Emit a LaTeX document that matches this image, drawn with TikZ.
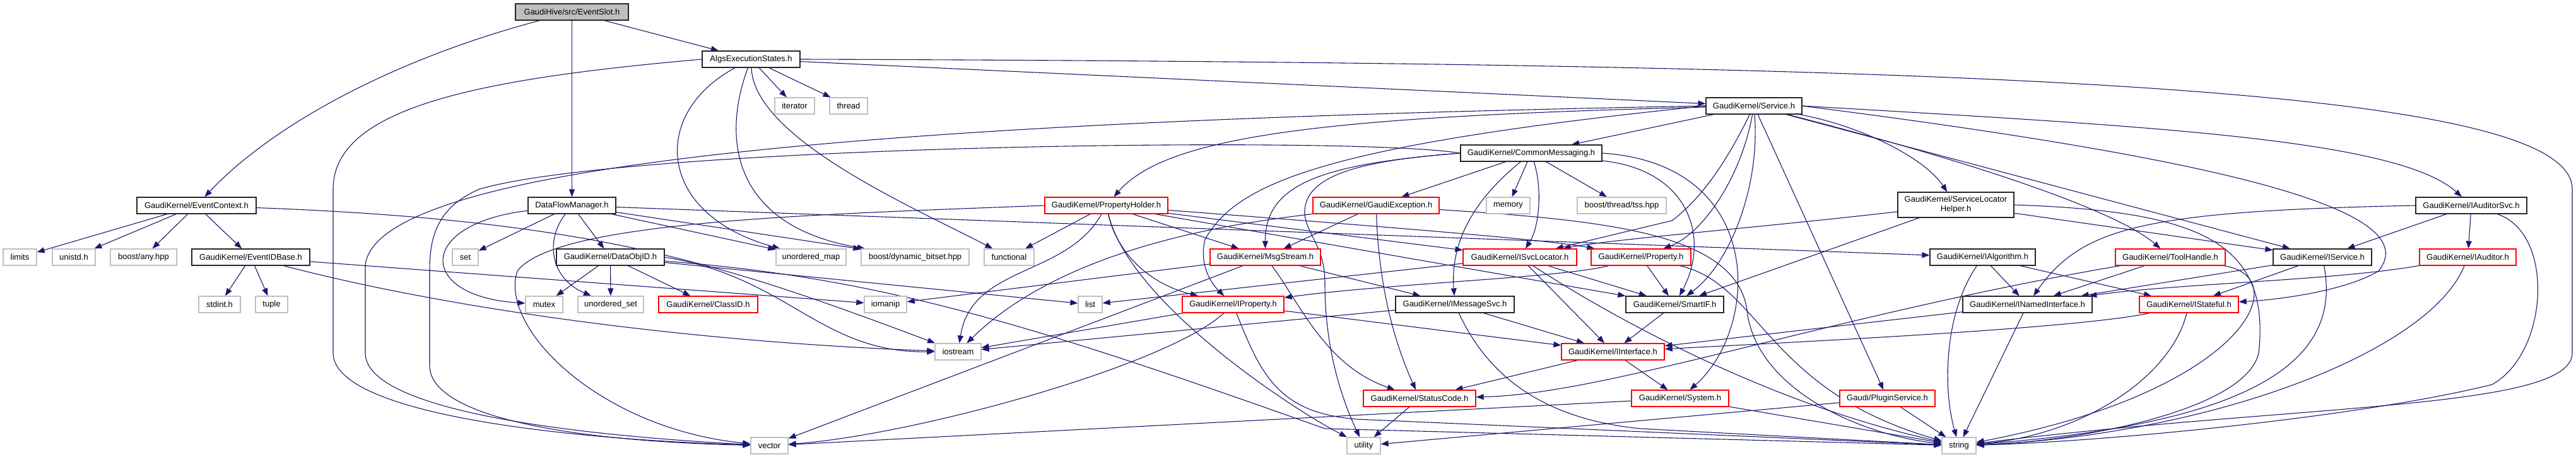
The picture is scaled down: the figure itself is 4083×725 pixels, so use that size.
\documentclass[tikz,border=0pt]{standalone}
\usepackage{fontspec}
\setmainfont{Liberation Sans}
\usetikzlibrary{arrows.meta,backgrounds}
\definecolor{edgeblue}{HTML}{191970}
\definecolor{greyseventyfive}{HTML}{BFBFBF}
\definecolor{redborder}{HTML}{FF0000}
\tikzset{
  nbox/.style={draw, rectangle, fill=white, minimum height=26pt, inner sep=0pt, line width=1.3pt, text=black, font=\fontsize{13}{15}\selectfont},
  sysbox/.style={nbox, draw=greyseventyfive},
  docbox/.style={nbox, draw=black!85},
  trbox/.style={nbox, draw=redborder},
  rootbox/.style={nbox, draw=black!85, fill=greyseventyfive},
  conn/.style={draw=edgeblue, line width=1.1pt, -{Triangle[length=12pt,width=9pt]}},
}
\begin{document}
\begin{tikzpicture}[x=1pt,y=-1pt]
\useasboundingbox (0,0) rectangle (4083,725);
% ---------------- nodes ----------------
\node[rootbox, minimum width=179pt] (slot) at (906.5,19) {GaudiHive/src/EventSlot.h};
\node[docbox, minimum width=155pt] (algs) at (1190.5,94) {AlgsExecutionStates.h};
\node[sysbox, minimum width=63pt] (iterator) at (1259.5,168) {iterator};
\node[sysbox, minimum width=60pt] (thread) at (1345,168) {thread};
\node[docbox, minimum width=139pt] (dfm) at (906.5,326) {DataFlowManager.h};
\node[docbox, minimum width=189pt] (ectx) at (311.5,326) {GaudiKernel/EventContext.h};
\node[sysbox, minimum width=53pt] (limits) at (31.5,408) {limits};
\node[sysbox, minimum width=68pt] (unistd) at (117,408) {unistd.h};
\node[sysbox, minimum width=105pt] (anyhpp) at (227.5,408) {boost/any.hpp};
\node[docbox, minimum width=187pt] (eidb) at (397.5,408) {GaudiKernel/EventIDBase.h};
\node[sysbox, minimum width=66pt] (stdint) at (348,483) {stdint.h};
\node[sysbox, minimum width=51pt] (tuple) at (430.5,483) {tuple};
\node[sysbox, minimum width=41pt] (set) at (737.5,408) {set};
\node[docbox, minimum width=171pt] (dataobjid) at (967.5,408) {GaudiKernel/DataObjID.h};
\node[sysbox, minimum width=111pt] (umap) at (1285.5,408) {unordered\_map};
\node[sysbox, minimum width=171pt] (dynbit) at (1450.5,408) {boost/dynamic\_bitset.hpp};
\node[sysbox, minimum width=79pt] (functional) at (1599.5,408) {functional};
\node[sysbox, minimum width=59pt] (mutex) at (862.5,483) {mutex};
\node[sysbox, minimum width=104pt] (uset) at (968,483) {unordered\_set};
\node[trbox, minimum width=157pt] (classid) at (1122.5,483) {GaudiKernel/ClassID.h};
\node[sysbox, minimum width=67pt] (iomanip) at (1403.5,483) {iomanip};
\node[sysbox, minimum width=38pt] (list) at (1728,483) {list};
\node[trbox, minimum width=161pt] (iprop) at (1954.5,483) {GaudiKernel/IProperty.h};
\node[sysbox, minimum width=73pt] (iostream) at (1518.5,558) {iostream};
\node[trbox, minimum width=175pt] (msgstream) at (2005.5,408) {GaudiKernel/MsgStream.h};
\node[trbox, minimum width=195pt] (propholder) at (1753.5,326) {GaudiKernel/PropertyHolder.h};
\node[docbox, minimum width=152pt] (service) at (2780,168) {GaudiKernel/Service.h};
\node[docbox, minimum width=224pt] (commsg) at (2427,243) {GaudiKernel/CommonMessaging.h};
\node[trbox, minimum width=200pt] (gexc) at (2181,326) {GaudiKernel/GaudiException.h};
\node[sysbox, minimum width=69pt] (memory) at (2390.5,326) {memory};
\node[sysbox, minimum width=141pt] (tss) at (2570.5,326) {boost/thread/tss.hpp};
\node[trbox, minimum width=180pt] (isvcloc) at (2409,408) {GaudiKernel/ISvcLocator.h};
\node[trbox, minimum width=158pt] (property) at (2601,408) {GaudiKernel/Property.h};
\node[docbox, minimum width=188pt] (imsgsvc) at (2306,483) {GaudiKernel/IMessageSvc.h};
\node[docbox, minimum width=155pt] (smartif) at (2654.5,483) {GaudiKernel/SmartIF.h};
\node[trbox, minimum width=163pt] (iinterface) at (2556.5,558) {GaudiKernel/IInterface.h};
\node[trbox, minimum width=178pt] (statuscode) at (2250,632) {GaudiKernel/StatusCode.h};
\node[trbox, minimum width=154pt] (system) at (2663,632) {GaudiKernel/System.h};
\node[sysbox, minimum width=53pt] (utility) at (2161.5,707) {utility};
\node[sysbox, minimum width=59pt] (vector) at (1219.5,707) {vector};
\node[docbox, minimum width=184pt, minimum height=40pt, align=center] (slh) at (3100,325) {GaudiKernel/ServiceLocator\\Helper.h};
\node[docbox, minimum width=167pt] (ialg) at (3142.5,408) {GaudiKernel/IAlgorithm.h};
\node[docbox, minimum width=205pt] (inamed) at (3213.5,483) {GaudiKernel/INamedInterface.h};
\node[trbox, minimum width=151pt] (plugin) at (2991.5,632) {Gaudi/PluginService.h};
\node[sysbox, minimum width=54pt] (string) at (3105,707) {string};
\node[trbox, minimum width=174pt] (toolhandle) at (3440,408) {GaudiKernel/ToolHandle.h};
\node[trbox, minimum width=157pt] (istateful) at (3469.5,483) {GaudiKernel/IStateful.h};
\node[docbox, minimum width=156pt] (iservice) at (3681,408) {GaudiKernel/IService.h};
\node[trbox, minimum width=153pt] (iauditor) at (3911.5,408) {GaudiKernel/IAuditor.h};
\node[docbox, minimum width=176pt] (iauditorsvc) at (3917,326) {GaudiKernel/IAuditorSvc.h};
% ---------------- edges ----------------
\begin{scope}[on background layer]
% EventSlot
\draw[conn] (slot) .. controls (620,95) and (430,200) .. (ectx);
\draw[conn] (slot) -- (dfm);
\draw[conn] (slot) -- (algs);
% AlgsExecutionStates
\draw[conn] (algs) -- (iterator);
\draw[conn] (algs) -- (thread);
\draw[conn] (algs) -- (service);
\draw[conn] (algs.east) .. controls (3200,100) and (4077,140) .. (4077,300) -- (4077,560) .. controls (4077,650) and (3650,640) .. (string);
\draw[conn] (algs.west) .. controls (760,125) and (528,170) .. (528,300) -- (528,560) .. controls (528,650) and (850,695) .. (vector);
\draw[conn] (algs) .. controls (1030,180) and (1040,340) .. (umap);
\draw[conn] (algs) .. controls (1140,230) and (1170,360) .. (dynbit);
\draw[conn] (algs) .. controls (1195,220) and (1450,330) .. (functional);
% EventContext
\draw[conn] (ectx) -- (limits);
\draw[conn] (ectx) -- (unistd);
\draw[conn] (ectx) -- (anyhpp);
\draw[conn] (ectx) -- (eidb);
\draw[conn] (ectx) .. controls (950,350) and (1150,420) .. (iostream);
% EventIDBase
\draw[conn] (eidb) -- (stdint);
\draw[conn] (eidb) -- (tuple);
\draw[conn] (eidb) -- (iomanip);
\draw[conn] (eidb) .. controls (750,500) and (1150,545) .. (iostream);
% DataFlowManager
\draw[conn] (dfm) .. controls (660,355) and (660,470) .. (mutex);
\draw[conn] (dfm) -- (set);
\draw[conn] (dfm) .. controls (865,380) and (870,440) .. (uset);
\draw[conn] (dfm) -- (dataobjid);
\draw[conn] (dfm) -- (umap);
\draw[conn] (dfm) -- (dynbit);
\draw[conn] (dfm) -- (ialg);
% DataObjID
\draw[conn] (dataobjid) -- (mutex);
\draw[conn] (dataobjid) -- (uset);
\draw[conn] (dataobjid) -- (classid);
\draw[conn] (dataobjid) -- (list);
\draw[conn] (dataobjid.east) .. controls (1250,440) and (1300,560) .. (iostream.west);
\draw[conn] (dataobjid) .. controls (1400,440) and (1650,520) .. (2100,680) -- (string);
% PropertyHolder
\draw[conn] (propholder.west) .. controls (1300,340) and (880,350) .. (820,430) .. controls (790,520) and (950,680) .. (vector);
\draw[conn] (propholder) -- (functional);
\draw[conn] (propholder) .. controls (1690,440) and (1540,420) .. (iostream);
\draw[conn] (propholder) .. controls (1770,400) and (1820,450) .. (iprop);
\draw[conn] (propholder) .. controls (1790,480) and (2050,650) .. (utility);
\draw[conn] (propholder) -- (msgstream);
\draw[conn] (propholder) -- (isvcloc);
\draw[conn] (propholder) .. controls (2200,360) and (2450,380) .. (property);
\draw[conn] (propholder) -- (smartif);
% MsgStream
\draw[conn] (msgstream) -- (iomanip);
\draw[conn] (msgstream) -- (vector);
\draw[conn] (msgstream) -- (imsgsvc);
\draw[conn] (msgstream) .. controls (2060,480) and (2100,580) .. (statuscode);
% GaudiException
\draw[conn] (gexc) -- (msgstream);
\draw[conn] (gexc) .. controls (2000,350) and (1700,380) .. (iostream);
\draw[conn] (gexc) .. controls (2185,430) and (2200,520) .. (statuscode);
\draw[conn] (gexc) .. controls (2550,350) and (2760,370) .. (2770,500) .. controls (2790,620) and (2950,690) .. (string);
% CommonMessaging
\draw[conn] (commsg) -- (gexc);
\draw[conn] (commsg) -- (memory);
\draw[conn] (commsg) -- (tss);
\draw[conn] (commsg) .. controls (2320,330) and (2300,400) .. (imsgsvc);
\draw[conn] (commsg) .. controls (2445,300) and (2440,360) .. (isvcloc);
\draw[conn] (commsg) .. controls (2680,270) and (2710,380) .. (smartif);
\draw[conn] (commsg.west) .. controls (2100,260) and (2005,290) .. (msgstream);
\draw[conn] (commsg.west) .. controls (2150,255) and (2065,280) .. (2068,340) .. controls (2072,375) and (2100,390) .. (2100,450) .. controls (2100,560) and (2130,640) .. (utility);
\draw[conn] (commsg.east) .. controls (2800,260) and (2790,520) .. (system);
\draw[conn] (commsg.west) .. controls (2150,215) and (1000,230) .. (760,300) .. controls (690,330) and (681,380) .. (681,430) -- (681,580) .. controls (681,660) and (900,700) .. (vector);
% ISvcLocator
\draw[conn] (isvcloc) -- (iinterface);
\draw[conn] (isvcloc) -- (smartif);
\draw[conn] (isvcloc) .. controls (2550,500) and (2800,640) .. (string);
\draw[conn] (isvcloc) -- (list);
% Property
\draw[conn] (property) -- (smartif);
\draw[conn] (property) .. controls (2480,440) and (2200,450) .. (iprop);
\draw[conn] (property) .. controls (2790,450) and (2800,620) .. (string);
% IMessageSvc
\draw[conn] (imsgsvc) -- (iinterface);
\draw[conn] (imsgsvc) -- (iostream);
\draw[conn] (imsgsvc) .. controls (2360,600) and (2450,665) .. (2600,680) -- (string);
% SmartIF, IInterface, StatusCode, System, PluginService
\draw[conn] (smartif) -- (iinterface);
\draw[conn] (iinterface) -- (statuscode);
\draw[conn] (iinterface) -- (system);
\draw[conn] (statuscode) -- (utility);
\draw[conn] (system) -- (vector);
\draw[conn] (system) -- (string);
\draw[conn] (plugin) -- (string);
\draw[conn] (plugin) -- (utility);
% IProperty
\draw[conn] (iprop) -- (iostream);
\draw[conn] (iprop) .. controls (1850,580) and (1450,690) .. (vector);
\draw[conn] (iprop) .. controls (2000,600) and (2030,655) .. (2150,665) -- (string);
\draw[conn] (iprop) -- (iinterface);
% IAlgorithm, INamedInterface
\draw[conn] (ialg) -- (inamed);
\draw[conn] (ialg) .. controls (3080,500) and (3080,620) .. (string);
\draw[conn] (ialg) -- (istateful);
\draw[conn] (inamed) -- (iinterface);
\draw[conn] (inamed) -- (string);
% ServiceLocatorHelper
\draw[conn] (slh) .. controls (2800,360) and (2550,380) .. (isvcloc);
\draw[conn] (slh) -- (smartif);
\draw[conn] (slh) -- (iservice);
\draw[conn] (slh.east) .. controls (3480,335) and (3600,380) .. (3580,560) .. controls (3560,650) and (3300,700) .. (string);
% Service
\draw[conn] (service) -- (commsg);
\draw[conn] (service) .. controls (2100,185) and (1850,215) .. (propholder);
\draw[conn] (service.west) .. controls (2100,230) and (1960,290) .. (1910,380) .. controls (1900,420) and (1920,450) .. (iprop);
\draw[conn] (service.west) .. controls (1500,190) and (600,250) .. (579,420) -- (579,560) .. controls (579,650) and (900,690) .. (vector);
\draw[conn] (service) .. controls (2730,270) and (2690,320) .. (2650,350) -- (isvcloc);
\draw[conn] (service) .. controls (2760,280) and (2700,370) .. (property);
\draw[conn] (service) .. controls (2790,300) and (2740,420) .. (smartif);
\draw[conn] (service) -- (plugin);
\draw[conn] (service) .. controls (2950,200) and (3050,250) .. (slh);
\draw[conn] (service) .. controls (3100,250) and (3350,330) .. (toolhandle);
\draw[conn] (service) -- (iservice);
\draw[conn] (service.east) .. controls (3400,200) and (3800,220) .. (iauditorsvc);
\draw[conn] (service.east) .. controls (3500,250) and (3850,330) .. (3770,430) .. controls (3720,460) and (3620,475) .. (istateful);
% IAuditorSvc
\draw[conn] (iauditorsvc) -- (iservice);
\draw[conn] (iauditorsvc) -- (iauditor);
\draw[conn] (iauditorsvc) .. controls (4050,370) and (4040,560) .. (3950,610) .. controls (3750,660) and (3350,700) .. (string);
\draw[conn] (iauditorsvc.west) .. controls (3400,335) and (3300,360) .. (inamed);
% IService
\draw[conn] (iservice) -- (inamed);
\draw[conn] (iservice) -- (istateful);
\draw[conn] (iservice) .. controls (3710,560) and (3600,670) .. (string);
% IAuditor
\draw[conn] (iauditor) .. controls (3700,445) and (3450,450) .. (inamed);
\draw[conn] (iauditor) .. controls (3850,560) and (3500,690) .. (string);
% IStateful
\draw[conn] (istateful) .. controls (3300,520) and (2900,540) .. (iinterface);
\draw[conn] (istateful) .. controls (3440,600) and (3300,690) .. (string);
% ToolHandle
\draw[conn] (toolhandle) -- (inamed);
\draw[conn] (toolhandle) .. controls (2900,500) and (2550,625) .. (statuscode);
\draw[conn] (toolhandle) .. controls (3640,440) and (3560,620) .. (string);
\end{scope}
\end{tikzpicture}
\end{document}
